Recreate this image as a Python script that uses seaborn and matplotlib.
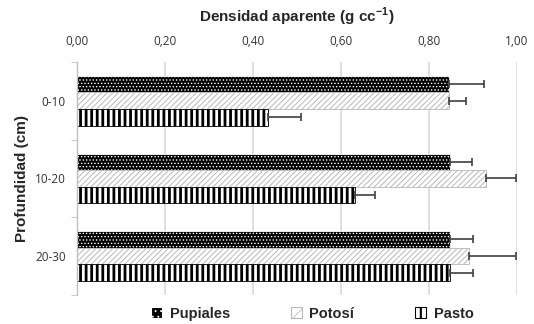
import pandas as pd
import matplotlib
matplotlib.use('Agg')
import matplotlib.pyplot as plt
import matplotlib.patches as mpatches
import seaborn as sns

## Data
profundidad = ['0-10', '10-20', '20-30']
series = ['Pupiales', 'Potosí', 'Pasto']
pupiales = [0.845, 0.848, 0.848]
pupiales_err = [0.080, 0.050, 0.052]
potosi = [0.845, 0.930, 0.890]
potosi_err = [0.040, 0.068, 0.108]
pasto = [0.434, 0.631, 0.849]
pasto_err = [0.075, 0.046, 0.051]
x_ticks = [0.0, 0.2, 0.4, 0.6, 0.8, 1.0]

vals = {'Pupiales': pupiales, 'Potosí': potosi, 'Pasto': pasto}
errs = {'Pupiales': pupiales_err, 'Potosí': potosi_err, 'Pasto': pasto_err}

rows = []
for s in series:
    for p, v in zip(profundidad, vals[s]):
        rows.append({'prof': p, 'serie': s, 'dens': v})
df = pd.DataFrame(rows)

sns.set_style('white')
plt.rcParams['font.family'] = ['Liberation Sans', 'DejaVu Sans']

# bar styles: facecolor, hatch colour, hatch, hatch linewidth
styles = {
    'Pupiales': ('black', 'white', '.....', 0.6),
    'Potosí': ('white', '#b8b8b8', '//////', 0.7),
    'Pasto': ('white', 'black', '|||', 2.0),
}

fig = plt.figure(figsize=(5.34, 3.24), dpi=100)
ax = fig.add_axes([0.144, 0.09, 0.824, 0.719])

sns.barplot(data=df, y='prof', x='dens', hue='serie', order=profundidad,
            hue_order=series, orient='h', width=0.64, gap=0, legend=False,
            errorbar=None, ax=ax)

for s, cont in zip(series, ax.containers):
    fc, hc, hatch, hlw = styles[s]
    for p, e in zip(cont.patches, errs[s]):
        p.set_facecolor(fc)
        p.set_edgecolor(hc)
        p.set_hatch(hatch)
        if hasattr(p, 'set_hatch_linewidth'):
            p.set_hatch_linewidth(hlw)
        p.set_linewidth(0.6)
        y = p.get_y() + p.get_height() / 2
        ax.errorbar(p.get_width(), y, xerr=[[0], [e]], fmt='none',
                    ecolor='#404040', elinewidth=1.2, capsize=3, capthick=1.2)

ax.set_xlim(0, 1.0)
ax.set_ylim(2.5, -0.5)
ax.set_xticks(x_ticks)
ax.set_xticklabels([f'{t:.2f}'.replace('.', ',') for t in x_ticks],
                   fontsize=8.5, color='#333333', family=['Open Sans', 'DejaVu Sans'])
ax.set_yticks(range(len(profundidad)))
ax.set_yticklabels(profundidad, fontsize=8.5, color='#333333', family=['Open Sans', 'DejaVu Sans'])
ax.xaxis.tick_top()
ax.xaxis.set_label_position('top')
ax.tick_params(axis='x', length=0, pad=10)
ax.tick_params(axis='y', which='major', length=0, pad=8)
ax.set_yticks([-0.5, 0.5, 1.5, 2.5], minor=True)
ax.tick_params(axis='y', which='minor', length=4, color='#bfbfbf', left=True)
ax.grid(axis='x', color='#d9d9d9', linewidth=1.2)
ax.set_axisbelow(True)
for sp in ['top', 'right', 'bottom']:
    ax.spines[sp].set_visible(False)
ax.spines['left'].set_color('#bfbfbf')
ax.spines['left'].set_linewidth(1)

ax.set_xlabel('Densidad aparente (g cc$^{\\mathregular{-1}}$)', fontsize=11, fontweight='bold', labelpad=9)
ax.set_ylabel('Profundidad (cm)', fontsize=11, fontweight='bold', labelpad=4)

handles = []
for s in series:
    fc, hc, hatch, hlw = styles[s]
    h = mpatches.Patch(facecolor=fc, edgecolor=hc if s != 'Pupiales' else '#303030',
                       hatch=hatch[:3], linewidth=0.8)
    handles.append(h)
leg = fig.legend(handles, series, loc='lower center', bbox_to_anchor=(0.585, -0.03), ncol=3,
                 frameon=False, handlelength=0.75, handleheight=0.75, handletextpad=0.5,
                 columnspacing=4.2, prop={'weight': 'bold', 'size': 10.5})
for s, h in zip(series, leg.legend_handles):
    fc, hc, hatch, hlw = styles[s]
    h.set_edgecolor(hc)
    if s == 'Pasto':
        h.set_hatch('||')
    if hasattr(h, 'set_hatch_linewidth'):
        h.set_hatch_linewidth(1.5 if s == 'Pasto' else 0.6)

fig.savefig('out.png', dpi=100)
